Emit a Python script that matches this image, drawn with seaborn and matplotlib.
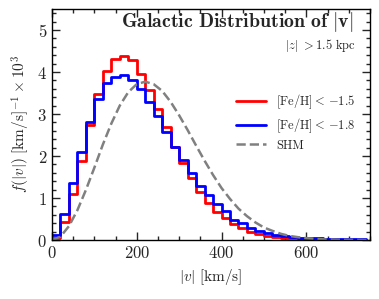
import numpy as np
import pandas as pd
import matplotlib
matplotlib.use("Agg")
import matplotlib.pyplot as plt
import seaborn as sns
from matplotlib.ticker import MultipleLocator

# --- data (units of 1e-3 per km/s) ---
bin_edges = list(range(0, 760, 20))  # 0..740
red_heights = [0.04, 0.44, 1.10, 1.89, 2.74, 3.47, 4.02, 4.30, 4.39, 4.29,
               3.95, 3.57, 3.13, 2.68, 2.22, 1.84, 1.47, 1.15, 0.89, 0.67,
               0.52, 0.38, 0.28, 0.19, 0.14, 0.10, 0.07, 0.05, 0.04, 0.03,
               0.02, 0.02, 0.01, 0.01, 0.01, 0.01, 0.01]
blue_heights = [0.12, 0.63, 1.35, 2.10, 2.82, 3.35, 3.73, 3.89, 3.93, 3.81,
                3.59, 3.29, 2.95, 2.58, 2.22, 1.90, 1.59, 1.29, 1.07, 0.85,
                0.69, 0.49, 0.41, 0.29, 0.22, 0.17, 0.13, 0.10, 0.08, 0.06,
                0.05, 0.04, 0.03, 0.03, 0.02, 0.02, 0.02]
shm_v = [0, 20, 40, 60, 80, 100, 120, 140, 160, 180, 200, 220, 240, 260, 280,
         300, 320, 340, 360, 380, 400, 420, 440, 460, 480, 500, 520, 540, 560,
         580, 600, 640, 680, 750]
shm_f = [0.0, 0.08, 0.33, 0.71, 1.19, 1.72, 2.27, 2.77, 3.20, 3.52, 3.71, 3.77,
         3.71, 3.55, 3.29, 2.97, 2.62, 2.25, 1.89, 1.55, 1.24, 0.98, 0.75, 0.57,
         0.42, 0.30, 0.22, 0.15, 0.10, 0.07, 0.045, 0.018, 0.007, 0.001]

bin_centers = [e + 10 for e in bin_edges[:-1]]
hist_df = pd.DataFrame({
    "v": bin_centers * 2,
    "f": red_heights + blue_heights,
    "sample": ["red"] * len(red_heights) + ["blue"] * len(blue_heights),
})
shm_df = pd.DataFrame({"v": shm_v, "f": shm_f})

sns.set_theme(style="ticks")
plt.rcParams["font.family"] = ["cmr10", "DejaVu Serif"]
plt.rcParams["mathtext.fontset"] = "cm"
plt.rcParams["axes.formatter.use_mathtext"] = True
plt.rcParams["axes.unicode_minus"] = False

fig = plt.figure(figsize=(3.79, 2.99), dpi=100)
ax = fig.add_axes([0.137, 0.197, 0.839, 0.773])

for name, color, label in [("red", "#ff0000", r"$[\mathrm{Fe/H}]{<}\,{-1.5}$"),
                           ("blue", "#0000ff", r"$[\mathrm{Fe/H}]{<}\,{-1.8}$")]:
    sub = hist_df[hist_df["sample"] == name]
    sns.histplot(data=sub, x="v", weights="f", bins=bin_edges, element="step",
                 fill=False, color=color, linewidth=2, ax=ax, label=label)

sns.lineplot(data=shm_df, x="v", y="f", color="#808080", linestyle="--",
             linewidth=1.8, ax=ax, label="SHM")

ax.set_xlim(0, 750)
ax.set_ylim(0, 5.5)
ax.xaxis.set_major_locator(MultipleLocator(200))
ax.xaxis.set_minor_locator(MultipleLocator(50))
ax.yaxis.set_major_locator(MultipleLocator(1))
ax.yaxis.set_minor_locator(MultipleLocator(0.2))
ax.tick_params(which="both", direction="in", top=True, right=True,
               labelsize=12, width=1)
ax.tick_params(which="major", length=6)
ax.tick_params(which="minor", length=3)
for s in ax.spines.values():
    s.set_linewidth(1)
    s.set_color("black")

ax.set_xlabel(r"$|v|\ [\mathrm{km/s}]$", fontsize=11)
ax.set_ylabel(r"$f(|v|)\ [\mathrm{km/s}]^{-1} \times 10^3$", fontsize=11)

ax.text(0.947, 0.945, r"$\mathbf{Galactic\ Distribution\ of\ |v|}$",
        transform=ax.transAxes, ha="right", va="center", fontsize=14.3)
ax.text(0.955, 0.84, r"$|z|\ \mathrm{>}1.5\ \mathrm{kpc}$",
        transform=ax.transAxes, ha="right", va="center", fontsize=9)

ax.legend(loc="center right", bbox_to_anchor=(0.99, 0.51), frameon=False,
          fontsize=9, handlelength=2.4, handletextpad=0.8,
          labelspacing=0.4)

fig.savefig("out.png", dpi=100)
